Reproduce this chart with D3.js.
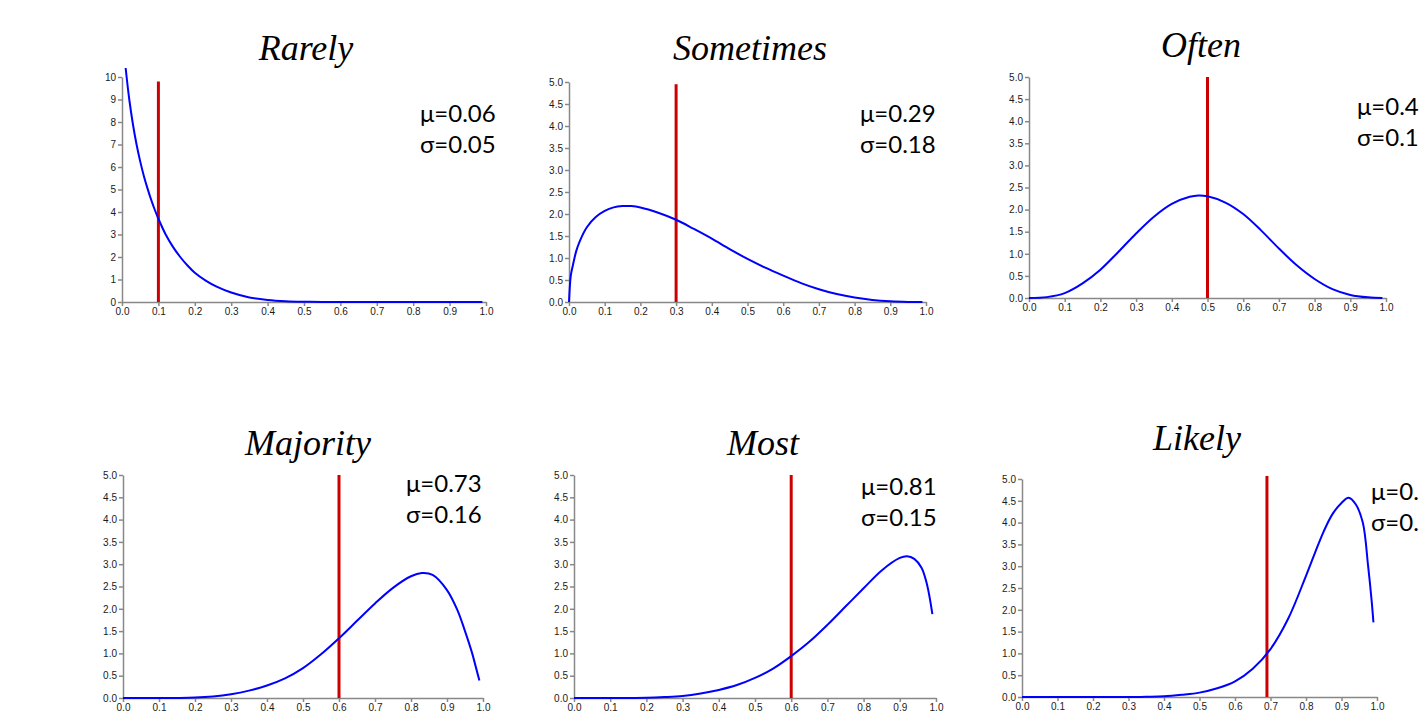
<!DOCTYPE html>
<html lang="en">
<head>
<meta charset="utf-8" />
<title>Probability words</title>
<script src="https://cdn.jsdelivr.net/npm/d3@7"></script>
<style>
  body { margin: 0; background: #fff; overflow: hidden; }
  .axis path, .axis line { stroke: #888; stroke-width: 1.5; }
  .axis text { font-family: "Liberation Sans", Arial, sans-serif; font-size: 10px; fill: #1a1a1a; }
</style>
</head>
<body>
<svg id="chart" width="1419" height="712"></svg>
<script>
// ---- data ----
const titles = ["Rarely", "Sometimes", "Often", "Majority", "Most", "Likely"];
const muLabels = ["μ=0.06", "μ=0.29", "μ=0.47", "μ=0.73", "μ=0.81", "μ=0.86"];
const sigmaLabels = ["σ=0.05", "σ=0.18", "σ=0.17", "σ=0.16", "σ=0.15", "σ=0.11"];
const markerX = [0.1, 0.3, 0.5, 0.6, 0.6, 0.69];
const markerTop = [9.8, 4.95, 5.0, 5.0, 5.0, 5.07];
const yMax = [10, 5, 5, 5, 5, 5];

const xTickValues = [0, 0.1, 0.2, 0.3, 0.4, 0.5, 0.6, 0.7, 0.8, 0.9, 1.0];
const yTicksRarely = [0, 1, 2, 3, 4, 5, 6, 7, 8, 9, 10];
const yTicksHalf = [0, 0.5, 1, 1.5, 2, 2.5, 3, 3.5, 4, 4.5, 5];

const rarelyX = [0.01, 0.02, 0.03, 0.04, 0.05, 0.06, 0.07, 0.08, 0.09, 0.1, 0.12, 0.14, 0.16, 0.18, 0.2, 0.23, 0.26, 0.3, 0.35, 0.4, 0.45, 0.5, 0.55, 0.6, 0.99];
const rarelyY = [10.4, 9.0, 7.9, 7.0, 6.25, 5.6, 5.05, 4.55, 4.1, 3.7, 3.0, 2.45, 2.0, 1.62, 1.3, 0.95, 0.68, 0.42, 0.2, 0.09, 0.035, 0.012, 0.003, 0, 0];

const sometimesX = [0, 0.005, 0.01, 0.02, 0.03, 0.05, 0.075, 0.1, 0.125, 0.15, 0.175, 0.2, 0.25, 0.3, 0.35, 0.4, 0.45, 0.5, 0.55, 0.6, 0.65, 0.7, 0.75, 0.8, 0.85, 0.9, 0.95, 0.99];
const sometimesY = [0, 0.6, 0.8, 1.15, 1.38, 1.7, 1.93, 2.07, 2.15, 2.18, 2.18, 2.15, 2.03, 1.87, 1.66, 1.44, 1.2, 0.98, 0.78, 0.6, 0.43, 0.29, 0.18, 0.1, 0.045, 0.015, 0.002, 0];

const oftenX = [0, 0.05, 0.1, 0.15, 0.2, 0.25, 0.3, 0.35, 0.4, 0.45, 0.475, 0.5, 0.55, 0.6, 0.65, 0.7, 0.75, 0.8, 0.85, 0.9, 0.95, 0.99];
const oftenY = [0, 0.02, 0.11, 0.33, 0.64, 1.04, 1.46, 1.84, 2.13, 2.29, 2.32, 2.3, 2.16, 1.9, 1.53, 1.12, 0.74, 0.43, 0.2, 0.07, 0.015, 0];

const majorityX = [0, 0.1, 0.15, 0.2, 0.25, 0.3, 0.35, 0.4, 0.45, 0.5, 0.55, 0.6, 0.65, 0.7, 0.75, 0.8, 0.83, 0.86, 0.9, 0.93, 0.95, 0.97, 0.99];
const majorityY = [0, 0, 0.002, 0.01, 0.035, 0.085, 0.165, 0.28, 0.44, 0.67, 0.98, 1.34, 1.73, 2.12, 2.47, 2.73, 2.8, 2.76, 2.42, 1.95, 1.5, 1.0, 0.39];

const mostX = [0, 0.1, 0.2, 0.25, 0.3, 0.35, 0.4, 0.45, 0.5, 0.55, 0.6, 0.65, 0.7, 0.75, 0.8, 0.85, 0.9, 0.92, 0.94, 0.96, 0.975, 0.99];
const mostY = [0, 0, 0.005, 0.02, 0.045, 0.1, 0.18, 0.29, 0.45, 0.66, 0.94, 1.26, 1.64, 2.05, 2.46, 2.86, 3.14, 3.18, 3.12, 2.92, 2.55, 1.88];

const likelyX = [0, 0.1, 0.2, 0.3, 0.35, 0.4, 0.45, 0.5, 0.55, 0.6, 0.65, 0.7, 0.75, 0.8, 0.825, 0.85, 0.875, 0.9, 0.92, 0.94, 0.96, 0.975, 0.985, 0.99];
const likelyY = [0, 0, 0, 0, 0.005, 0.015, 0.05, 0.1, 0.2, 0.36, 0.65, 1.1, 1.8, 2.78, 3.3, 3.8, 4.2, 4.45, 4.57, 4.42, 4.0, 3.0, 2.2, 1.71];

const curvesX = [rarelyX, sometimesX, oftenX, majorityX, mostX, likelyX];
const curvesY = [rarelyY, sometimesY, oftenY, majorityY, mostY, likelyY];

// ---- layout of each panel (page pixels) ----
const layout = [
  { left: 122, right: 486, bottom: 302, top: 77, titleX: 306, titleY: 60, textX: 420, textY: 122 },
  { left: 569, right: 926, bottom: 302, top: 82, titleX: 750, titleY: 60, textX: 860, textY: 122 },
  { left: 1029, right: 1386, bottom: 298, top: 77, titleX: 1201, titleY: 57, textX: 1357, textY: 115 },
  { left: 123, right: 483, bottom: 698, top: 475, titleX: 308, titleY: 455, textX: 406, textY: 492 },
  { left: 574, right: 936, bottom: 698, top: 475, titleX: 763, titleY: 455, textX: 861, textY: 495 },
  { left: 1022, right: 1377, bottom: 697, top: 479, titleX: 1197, titleY: 450, textX: 1371, textY: 500 }
];

const svg = d3.select("#chart");

titles.forEach((title, i) => {
  const L = layout[i];
  const g = svg.append("g").attr("transform", `translate(${L.left}, ${L.top})`);
  const w = L.right - L.left;
  const h = L.bottom - L.top;

  const xScale = d3.scaleLinear().domain([0, 1]).range([0, w]);
  const yScale = d3.scaleLinear().domain([0, yMax[i]]).range([h, 0]);

  const yTicks = yMax[i] === 10 ? yTicksRarely : yTicksHalf;

  g.append("g")
    .attr("class", "axis")
    .attr("transform", `translate(0, ${h})`)
    .call(d3.axisBottom(xScale).tickValues(xTickValues).tickFormat(d3.format(".1f"))
      .tickSize(4).tickSizeOuter(0).tickPadding(2));

  g.append("g")
    .attr("class", "axis")
    .call(d3.axisLeft(yScale).tickValues(yTicks)
      .tickFormat(yMax[i] === 10 ? d3.format("d") : d3.format(".1f"))
      .tickSize(4).tickSizeOuter(0).tickPadding(2));

  // red marker line
  g.append("line")
    .attr("x1", xScale(markerX[i]))
    .attr("x2", xScale(markerX[i]))
    .attr("y1", yScale(0))
    .attr("y2", yScale(markerTop[i]))
    .attr("stroke", "#cc0000")
    .attr("stroke-width", 3);

  // density curve
  const pts = curvesX[i].map((x, k) => [x, curvesY[i][k]]);
  const line = d3.line()
    .x((d) => xScale(d[0]))
    .y((d) => yScale(d[1]))
    .curve(d3.curveCatmullRom.alpha(0.5));

  g.append("path")
    .attr("d", line(pts))
    .attr("fill", "none")
    .attr("stroke", "#0000ff")
    .attr("stroke-width", 2);

  // title
  svg.append("text")
    .attr("x", L.titleX)
    .attr("y", L.titleY)
    .attr("text-anchor", "middle")
    .attr("font-family", "Liberation Serif, serif")
    .attr("font-style", "italic")
    .attr("font-size", "36px")
    .attr("fill", "#000")
    .text(title);

  // mu / sigma labels
  svg.append("text")
    .attr("x", L.textX)
    .attr("y", L.textY)
    .attr("font-family", "Lato, sans-serif")
    .attr("font-size", "24px")
    .attr("fill", "#000")
    .text(muLabels[i]);

  svg.append("text")
    .attr("x", L.textX)
    .attr("y", L.textY + 31)
    .attr("font-family", "Lato, sans-serif")
    .attr("font-size", "24px")
    .attr("fill", "#000")
    .text(sigmaLabels[i]);
});
</script>
</body>
</html>
